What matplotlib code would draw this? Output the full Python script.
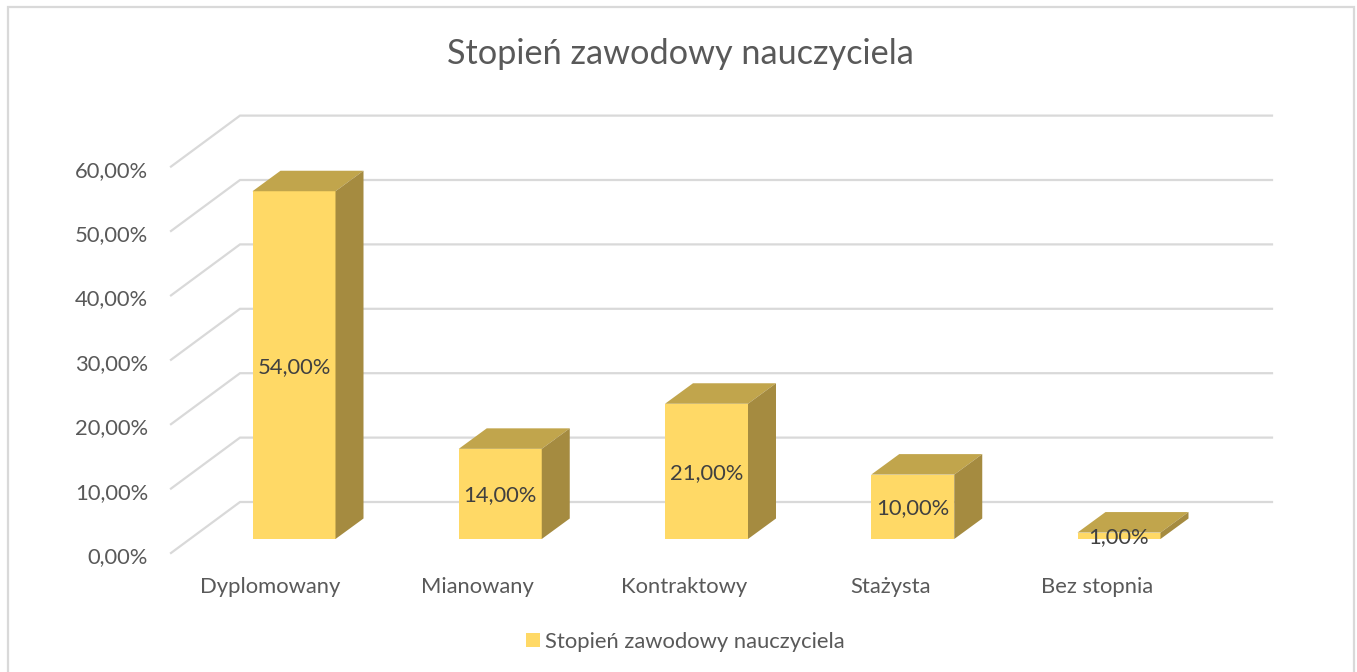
import matplotlib
matplotlib.use('Agg')
from matplotlib import pyplot as plt
from matplotlib.patches import Polygon, Rectangle

categories = ['Dyplomowany', 'Mianowany', 'Kontraktowy', 'Stażysta', 'Bez stopnia']
values = [54, 14, 21, 10, 1]
value_labels = ['54,00%', '14,00%', '21,00%', '10,00%', '1,00%']
ticks = [0, 10, 20, 30, 40, 50, 60]
tick_labels = ['0,00%', '10,00%', '20,00%', '30,00%', '40,00%', '50,00%', '60,00%']
series_name = 'Stopień zawodowy nauczyciela'

plt.rcParams['font.family'] = ['Lato', 'DejaVu Sans']

W, H = 1357, 672
# px per category and per percent, base of first bar in px
sx, sy = 206.25, 6.44
x0, y0 = 294.0, 539.0
px = lambda p: (p - x0) / sx
py = lambda p: (y0 - p) / sy

fig = plt.figure(figsize=(W / 100, H / 100), dpi=100)
ax = fig.add_axes([0, 0, 1, 1])
ax.set_xlim(px(0), px(W))
ax.set_ylim(py(H), py(0))
ax.axis('off')

# frame
ax.add_patch(Rectangle((px(8), py(690)), 1346 / sx, (690 - 7) / sy, fill=False,
                       ec='#D9D9D9', lw=1.6))

# walls
wall_front, wall_back, wall_right = px(171), px(240), px(1272)
front_dy, back_dy = -14 / sy, 37 / sy
for t, lab in zip(ticks, tick_labels):
    ax.plot([wall_front, wall_back, wall_right], [t + front_dy, t + back_dy, t + back_dy],
            color='#D9D9D9', lw=1.6, zorder=1, solid_joinstyle='miter')
    ax.text(px(148), t + front_dy - 0.65, lab, ha='right', va='center', fontsize=15.8, color='#595959')

# bars
width = 83 / sx
dx, dy = 28 / sx, 20.5 / sy
bars = ax.bar(range(len(values)), values, width=width, color='#FFD966', zorder=3, label=series_name)
for i, v in enumerate(values):
    l, r = i - width / 2, i + width / 2
    ax.add_patch(Polygon([(l, v), (r, v), (r + dx, v + dy), (l + dx, v + dy)], color='#C1A54C', lw=0, zorder=3))
    ax.add_patch(Polygon([(r, 0), (r + dx, dy), (r + dx, v + dy), (r, v)], color='#A58B40', lw=0, zorder=3))
    ax.text(i, v / 2 - 0.25, value_labels[i], ha='center', va='center', fontsize=15.8, color='#404040', zorder=4)
    ax.text(px(270.5 + 206.75 * i), py(587), categories[i], ha='center', va='center', fontsize=15.8, color='#595959')

ax.text(px(680.5), py(54), series_name, ha='center', va='center', fontsize=24.7, color='#595959')

ax.legend(handles=[bars], loc='center', bbox_to_anchor=(685.5 / W, 1 - 641.5 / H), frameon=False,
          fontsize=15.8, labelcolor='#595959', handlelength=0.63, handleheight=0.63, handletextpad=0.25)

fig.savefig('out.png', dpi=100)
